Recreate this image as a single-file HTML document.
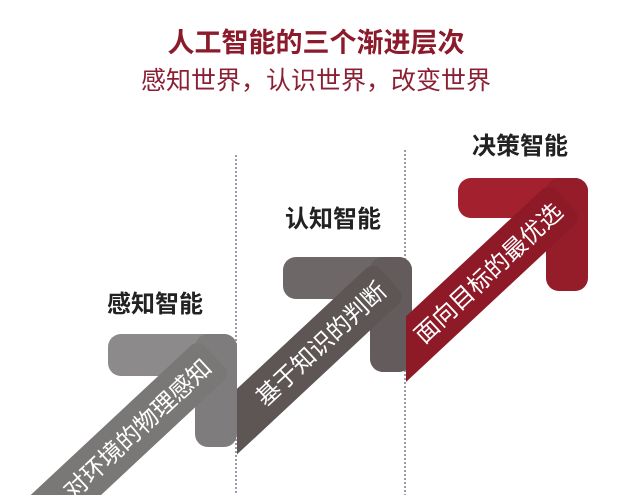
<!DOCTYPE html>
<html><head><meta charset="utf-8"><style>
html,body{margin:0;background:#fff;width:640px;height:495px;overflow:hidden}
svg{display:block}
text{font-family:"Liberation Sans","Noto Sans CJK SC",sans-serif}
</style></head><body>
<svg width="640" height="495" viewBox="0 0 640 495">
<defs>
<clipPath id="c1"><rect x="0" y="0" width="640" height="495"/></clipPath>
<clipPath id="c2"><rect x="237" y="0" width="403" height="495"/></clipPath>
<clipPath id="c3"><rect x="406" y="0" width="234" height="495"/></clipPath>
</defs>
<text x="316" y="52" text-anchor="middle" font-size="27" font-weight="bold" fill="#8b1a2b">人工智能的三个渐进层次</text>
<text x="316" y="89" text-anchor="middle" font-size="25" fill="#8b2035">感知世界，认识世界，改变世界</text>
<line x1="236" y1="155" x2="236" y2="495" stroke="#9a9aaa" stroke-width="2" stroke-dasharray="2,2"/>
<line x1="405" y1="150" x2="405" y2="495" stroke="#9a9aaa" stroke-width="2" stroke-dasharray="2,2"/>
<text x="155" y="312" text-anchor="middle" font-size="24" font-weight="bold" fill="#222">感知智能</text>
<text x="333" y="227" text-anchor="middle" font-size="24" font-weight="bold" fill="#222">认知智能</text>
<text x="520" y="154" text-anchor="middle" font-size="24" font-weight="bold" fill="#222">决策智能</text>

<g clip-path="url(#c1)"><g transform="translate(237,334)">
<rect x="-129" y="0" width="129" height="42" rx="13" fill="#8c8a8a"/>
<rect x="-42" y="0" width="42" height="113" rx="13" fill="#7e7c7c"/>
<g transform="translate(-21,21) rotate(-43)">
<rect x="-320" y="-24" width="318" height="48" rx="10" fill="#7a7777"/>
<text x="-12" y="9" text-anchor="end" font-size="24" fill="#fff">对环境的物理感知</text>
</g></g></g>

<g clip-path="url(#c2)"><g transform="translate(412,257)">
<rect x="-129" y="0" width="129" height="42" rx="13" fill="#6e6767"/>
<rect x="-42" y="0" width="42" height="115" rx="13" fill="#645c5c"/>
<g transform="translate(-21,21) rotate(-43)">
<rect x="-320" y="-24" width="318" height="48" rx="10" fill="#5e5555"/>
<text x="-12" y="9" text-anchor="end" font-size="24" fill="#fff">基于知识的判断</text>
</g></g></g>

<g clip-path="url(#c3)"><g transform="translate(588,178)">
<rect x="-130" y="0" width="130" height="40" rx="13" fill="#a3202f"/>
<rect x="-42" y="0" width="42" height="113" rx="13" fill="#951d2a"/>
<g transform="translate(-21,21) rotate(-43)">
<rect x="-320" y="-24" width="318" height="48" rx="10" fill="#8e1a28"/>
<text x="-12" y="9" text-anchor="end" font-size="24" fill="#fff">面向目标的最优选</text>
</g></g></g>
</svg>
</body></html>
